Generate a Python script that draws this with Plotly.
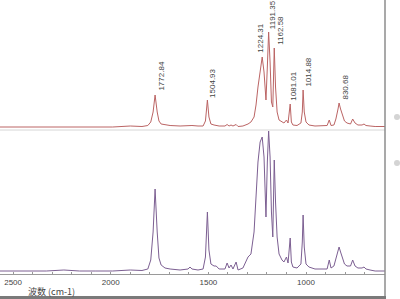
import plotly.graph_objects as go

# ---- data ----
wavenumber = [2567, 2480, 2400, 2330, 2240, 2160, 2080, 1990, 1900, 1840, 1810, 1795, 1783, 1772.84,
              1762, 1753, 1742, 1722, 1696, 1645, 1604, 1594, 1584, 1553, 1527, 1515, 1504.93, 1497,
              1487, 1471, 1460, 1445, 1415, 1404, 1394, 1384, 1374, 1358, 1348, 1323, 1297, 1282,
              1266, 1256, 1246, 1235, 1224.31, 1215, 1205, 1198, 1191.35, 1184, 1177, 1170, 1162.58,
              1156, 1148, 1138, 1123, 1113, 1100, 1092, 1081.01, 1075, 1067, 1046, 1026, 1019, 1014.88,
              1009, 1000, 985, 954, 918, 892, 881, 872, 857, 847, 836, 830.68, 823, 814, 803, 790, 772,
              761, 749, 734, 713, 703, 693, 672, 646, 595]

absorb_top = [0, 0, 0.005, 0.005, 0, 0, 0, 0, 0.01, 0.005, 0.015, 0.05, 0.15, 0.32,
              0.15, 0.06, 0.03, 0.025, 0.015, 0.01, 0.015, 0.02, 0.015, 0.01, 0.01, 0.06, 0.27, 0.10,
              0.03, 0.02, 0.015, 0.01, 0.01, 0.025, 0.01, 0.02, 0.01, 0.025, 0.005, 0.01, 0.03, 0.05,
              0.10, 0.22, 0.40, 0.58, 0.70, 0.55, 0.27, 0.60, 0.95, 0.65, 0.25, 0.20, 0.79,
              0.40, 0.15, 0.07, 0.05, 0.04, 0.07, 0.04, 0.23, 0.05, 0.02, 0.015, 0.04, 0.15, 0.37,
              0.15, 0.05, 0.02, 0.01, 0.01, 0.015, 0.07, 0.015, 0.02, 0.08, 0.18, 0.24, 0.18, 0.12, 0.06, 0.04, 0.03,
              0.08, 0.04, 0.02, 0.02, 0.03, 0.015, 0.01, 0.005, 0.005]

absorb_bottom = [0.01, 0.01, 0.015, 0.01, 0.02, 0.01, 0.01, 0.01, 0.02, 0.015, 0.03, 0.12, 0.40, 0.83,
                 0.40, 0.14, 0.07, 0.04, 0.03, 0.02, 0.03, 0.05, 0.03, 0.02, 0.03, 0.15, 0.60, 0.22,
                 0.08, 0.06, 0.06, 0.03, 0.03, 0.09, 0.04, 0.07, 0.03, 0.10, 0.02, 0.04, 0.15, 0.18,
                 0.40, 0.75, 1.10, 1.30, 1.35, 1.15, 0.55, 1.10, 1.41, 1.15, 0.60, 0.35, 1.12,
                 0.70, 0.35, 0.18, 0.12, 0.10, 0.15, 0.09, 0.34, 0.10, 0.05, 0.04, 0.08, 0.30, 0.57,
                 0.25, 0.08, 0.05, 0.03, 0.03, 0.03, 0.12, 0.04, 0.06, 0.14, 0.22, 0.25, 0.20, 0.15, 0.08, 0.06, 0.06,
                 0.12, 0.06, 0.04, 0.04, 0.05, 0.03, 0.02, 0.01, 0.01]

peak_wn = [1772.84, 1504.93, 1224.31, 1191.35, 1162.58, 1081.01, 1014.88, 830.68]
peak_labels = ["1772.84", "1504.93", "1224.31", "1191.35", "1162.58", "1081.01", "1014.88", "830.68"]

tick_values = list(range(600, 2600, 100))
tick_labels = [str(v) if v % 500 == 0 else "" for v in tick_values]

# label offsets (pixels) for readability
label_dx = [6, 5, -2, 4, 6, 3, 5, 6]
label_dy = [2, 0, 2, 1, 1, 1, 1, 1]

fig = go.Figure()
fig.add_trace(go.Scatter(x=wavenumber, y=absorb_top, mode="lines", xaxis="x", yaxis="y",
                         line=dict(color="#bb6464", width=1), hoverinfo="skip"))
fig.add_trace(go.Scatter(x=wavenumber, y=absorb_bottom, mode="lines", xaxis="x", yaxis="y2",
                         line=dict(color="#7c5f92", width=1), hoverinfo="skip"))

peak_top_vals = [absorb_top[wavenumber.index(w)] for w in peak_wn]
for w, v, t, dx, dy in zip(peak_wn, peak_top_vals, peak_labels, label_dx, label_dy):
    fig.add_annotation(x=w, y=v, xref="x", yref="y", text=t, textangle=-90, showarrow=False,
                       xanchor="center", yanchor="bottom", xshift=dx, yshift=dy,
                       font=dict(family="Liberation Sans", size=8, color="#444444"))

fig.add_annotation(x=51 / 400, y=(299 - 291) / 299, xref="paper", yref="paper", text="波数 (cm-1)",
                   showarrow=False, xanchor="center", yanchor="middle",
                   font=dict(family="Noto Sans CJK SC", size=9, color="#444444"))

shapes = [
    dict(type="line", xref="paper", yref="paper", x0=0, x1=385 / 400, y0=(299 - 130) / 299,
         y1=(299 - 130) / 299, line=dict(color="#d6d6d6", width=1)),
    dict(type="line", xref="paper", yref="paper", x0=385 / 400, x1=385 / 400, y0=0, y1=1,
         line=dict(color="#8c8c8c", width=1.5)),
    dict(type="rect", xref="paper", yref="paper", x0=0, x1=386 / 400, y0=0, y1=3 / 299,
         line=dict(width=0), fillcolor="#7a7a7a"),
    dict(type="circle", xref="paper", yref="paper", x0=394 / 400, x1=400 / 400,
         y0=(299 - 120) / 299, y1=(299 - 114) / 299, line=dict(width=0), fillcolor="#d4d4d4"),
    dict(type="circle", xref="paper", yref="paper", x0=394 / 400, x1=400 / 400,
         y0=(299 - 166) / 299, y1=(299 - 160) / 299, line=dict(width=0), fillcolor="#d4d4d4"),
]

fig.update_layout(
    width=400, height=299, margin=dict(l=0, r=0, t=0, b=0),
    paper_bgcolor="white", plot_bgcolor="white", showlegend=False,
    shapes=shapes,
    xaxis=dict(domain=[0, 385 / 400], range=[2567, 595.5], anchor="y2",
               tickmode="array", tickvals=tick_values, ticktext=tick_labels,
               ticks="inside", ticklen=2, tickcolor="#999999", tickwidth=1,
               showline=True, linecolor="#9a9a9a", linewidth=1, showgrid=False, zeroline=False,
               tickfont=dict(family="Liberation Sans", size=8, color="#444444")),
    yaxis=dict(domain=[(299 - 130) / 299, 1], range=[-0.03, 1.27], visible=False),
    yaxis2=dict(domain=[(299 - 274) / 299, (299 - 130) / 299], range=[-0.02, 1.42], visible=False),
)

fig.write_html("out.html")
